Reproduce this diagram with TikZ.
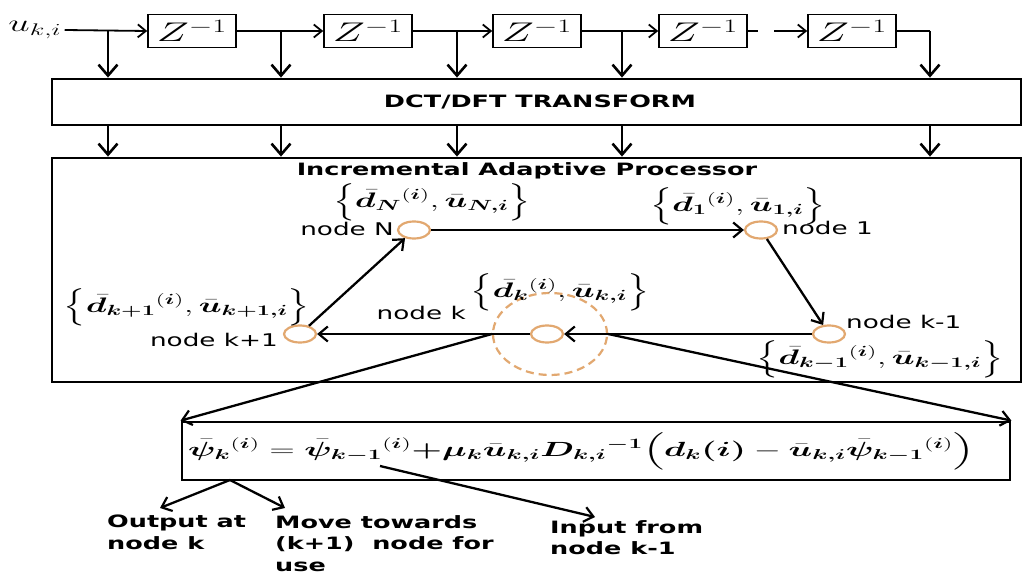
\RequirePackage{fix-cm}
\documentclass[tikz,border=0pt]{standalone}
\usepackage{amsmath,bm,graphicx}
\usepackage[no-math]{fontspec}
\setmainfont{DejaVu Sans}
\usetikzlibrary{arrows.meta,shapes.geometric}
\definecolor{nodeor}{RGB}{226,168,112}
\newcommand{\hs}[1]{\scalebox{1.5}[1]{#1}}
\newcommand{\ms}[1]{\scalebox{1.6}[1]{#1}}
\newcommand{\bd}{\bar{\bm{d}}}
\newcommand{\bu}{\bar{\bm{u}}}
\newcommand{\bpsi}{\bar{\bm{\psi}}}
\begin{document}
\begin{tikzpicture}[x=1pt,y=-1pt,
  sig/.style={line width=1.8pt},
  sigarr/.style={line width=1.8pt,-{Straight Barb[length=8pt,width=13pt,line width=1.8pt]}},
  tap/.style={line width=2.8pt,-{Straight Barb[length=11pt,width=19pt,line width=2.6pt]}},
  edge/.style={line width=2.3pt,-{Straight Barb[length=9pt,width=15pt,line width=2.2pt]}},
  zbox/.style={draw,line width=1.6pt,minimum width=88pt,minimum height=33pt,inner sep=0pt,font=\fontsize{27}{30}\selectfont},
  bigbox/.style={draw,line width=2.8pt,inner sep=0pt},
  nd/.style={ellipse,draw=nodeor,line width=2.2pt,minimum width=32pt,minimum height=17pt,inner sep=0pt,fill=white},
  ring/.style={ellipse,draw=nodeor,dashed,dash pattern=on 8pt off 5pt,line width=2.2pt,minimum width=114pt,minimum height=82pt,inner sep=0pt},
  lbl/.style={inner sep=0pt,font=\fontsize{17.5}{21}\selectfont},
  blbl/.style={inner sep=0pt,font=\fontsize{17}{21.5}\selectfont\bfseries,align=left},
  mlbl/.style={inner sep=0pt,font=\fontsize{21}{24}\selectfont},
]
\useasboundingbox (0,0) rectangle (1023,575);
\fill[white] (0,0) rectangle (1023,575);

% delay line
\node[inner sep=0pt,font=\fontsize{24}{26}\selectfont] (u) at (35,30) {\ms{$u_{k,i}$}};
\node[zbox] (z1) at (192,31) {\ms{$Z^{-1}$}};
\node[zbox] (z2) at (368,31) {\ms{$Z^{-1}$}};
\node[zbox] (z3) at (537,31) {\ms{$Z^{-1}$}};
\node[zbox] (z4) at (703,31) {\ms{$Z^{-1}$}};
\node[zbox] (z5) at (852,31) {\ms{$Z^{-1}$}};
\coordinate (g1) at (758,31);
\coordinate (g2) at (774,31);
\coordinate (t1) at (108,31);
\coordinate (t2) at (281,31);
\coordinate (t3) at (457,31);
\coordinate (t4) at (622,31);
\coordinate (t5) at (930,31);

\draw[sigarr] ([xshift=3pt]u.east) -- (z1.west);
\draw[sigarr] (z1.east) -- (z2.west);
\draw[sigarr] (z2.east) -- (z3.west);
\draw[sigarr] (z3.east) -- (z4.west);
\draw[sig] (z4.east) -- (g1);
\draw[sigarr] (g2) -- (z5.west);
\draw[sig] (z5.east) -- (t5);

% transform box
\node[bigbox,minimum width=969pt,minimum height=46pt] (dct) at (536.5,102) {};
\node[blbl] (dcttxt) at (540,102) {\hs{DCT/DFT TRANSFORM}};

\foreach \t in {t1,t2,t3,t4,t5}{
  \draw[tap] (\t) -- (\t |- dct.north);
}

% processor box
\node[bigbox,minimum width=969pt,minimum height=224pt] (proc) at (536.5,270) {};
\node[blbl] (ptitle) at (527,171) {\hs{Incremental Adaptive Processor}};

\foreach \t in {t1,t2,t3,t4,t5}{
  \draw[tap] (\t |- dct.south) -- (\t |- proc.north);
}

% nodes
\node[ring] (ring) at (550,334) {};
\node[nd] (nN) at (414,230) {};
\node[nd] (n1) at (761,230) {};
\node[nd] (nkm) at (829,334) {};
\node[nd] (nk) at (547,334) {};
\node[nd] (nkp) at (300,334) {};

\draw[edge] (nN) -- (n1);
\draw[edge] (n1) -- (nkm);
\draw[edge] (nkm) -- (nk);
\draw[edge] (nk) -- (nkp);
\draw[edge] (nkp) -- (nN);

% labels
\node[lbl,anchor=east] (lN) at (394,229) {\hs{node N}};
\node[mlbl] (mN) at (432,202) {\ms{$\Bigl\{\bd_{\bm N}{}^{(\bm i)},\bu_{\bm{N,i}}\Bigr\}$}};
\node[mlbl] (m1) at (738,206) {\ms{$\Bigl\{\bd_{\bm 1}{}^{(\bm i)},\bu_{\bm{1,i}}\Bigr\}$}};
\node[lbl,anchor=west] (l1) at (782,228) {\hs{node 1}};
\node[mlbl] (mkp) at (187,307) {\ms{$\Bigl\{\bd_{\bm{k+1}}{}^{(\bm i)},\bu_{\bm{k+1,i}}\Bigr\}$}};
\node[lbl,anchor=east] (lkp) at (278,340) {\hs{node k+1}};
\node[lbl,anchor=east] (lk) at (466,313) {\hs{node k}};
\node[mlbl] (mk) at (560,292) {\ms{$\Bigl\{\bd_{\bm k}{}^{(\bm i)},\bu_{\bm{k,i}}\Bigr\}$}};
\node[lbl,anchor=west] (lkm) at (846,322) {\hs{node k-1}};
\node[mlbl] (mkm) at (880,359) {\ms{$\Bigl\{\bd_{\bm{k-1}}{}^{(\bm i)},\bu_{\bm{k-1,i}}\Bigr\}$}};

% equation box
\node[bigbox,minimum width=828pt,minimum height=58pt] (eq) at (596,451) {};
\node[inner sep=0pt,anchor=west,font=\fontsize{20.5}{24}\selectfont] (eqt) at (188,451)
  {\scalebox{1.7}[1]{$\bpsi_{\bm k}{}^{(\bm i)} = \bpsi_{\bm{k-1}}{}^{(\bm i)}{\bm +}\bm{\mu}_{\bm k}\bu_{\bm{k,i}}\bm{D}_{\bm{k,i}}{}^{\bm{-1}}\Bigl(\bm{d}_{\bm k}\bm{(i)}-\bu_{\bm{k,i}}\bpsi_{\bm{k-1}}{}^{(\bm i)}\Bigr)$}};

\draw[edge] (ring.west) -- (eq.north west);
\draw[edge] (ring.east) -- (eq.north east);

% bottom
\coordinate (psk) at (230,480);
\coordinate (pskm) at (380,466);
\node[blbl,anchor=north west] (out) at (107,515) {\hs{Output at}\\\hs{node k}};
\node[blbl,anchor=north west] (mov) at (275,515) {\hs{Move towards}\\\hs{(k+1)\ \ node for}\\\hs{use}};
\node[blbl,anchor=north west] (inp) at (550,520) {\hs{Input from}\\\hs{node k-1}};
\coordinate (a1) at (160,508);
\coordinate (a2) at (285,508);
\coordinate (a3) at (595,517);
\draw[edge] (psk) -- (a1);
\draw[edge] (psk) -- (a2);
\draw[edge] (pskm) -- (a3);
\end{tikzpicture}
\end{document}
